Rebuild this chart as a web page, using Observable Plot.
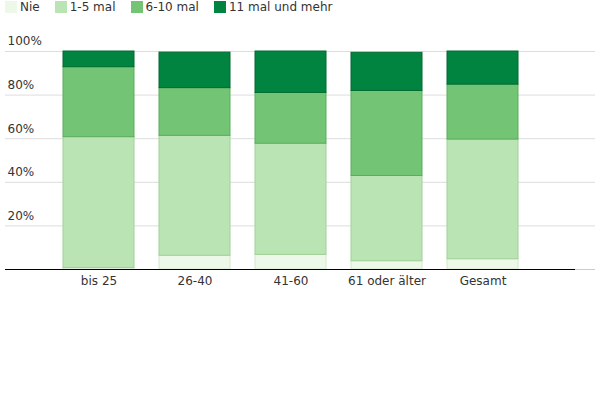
<!DOCTYPE html>
<html>
<head>
<meta charset="utf-8">
<script src="https://cdn.jsdelivr.net/npm/d3@7"></script>
<script src="https://cdn.jsdelivr.net/npm/@observablehq/plot@0.6"></script>
<style>
  body { margin: 0; background: #fff; font-family: "DejaVu Sans", sans-serif; }
  #legend { height: 20px; display: flex; align-items: flex-start; padding-left: 5px; font-size: 12px; color: #333; box-sizing: border-box; }
  .item { display: flex; align-items: center; margin-right: 15px; height: 14px; }
  .sw { width: 12px; height: 12px; margin-right: 3px; display: inline-block; }
</style>
</head>
<body>
<div id="legend"></div>
<div id="chart"></div>
<script>
const categories = ["bis 25", "26-40", "41-60", "61 oder älter", "Gesamt"];
const series = ["Nie", "1-5 mal", "6-10 mal", "11 mal und mehr"];
const nie     = [0.7, 6.3, 6.7, 3.8, 4.7];
const mal1_5  = [60.0, 55.0, 51.0, 39.1, 54.9];
const mal6_10 = [32.1, 21.9, 23.3, 39.0, 25.2];
const mal11   = [7.2, 16.3, 19.0, 17.5, 15.2];
const yTicks = [20, 40, 60, 80, 100];

const fills = ["#edf8e9", "#bae4b3", "#74c476", "#00843f"];
const strokes = ["#d2e8ca", "#a0d098", "#5aae5c", "#006b33"];

const values = [nie, mal1_5, mal6_10, mal11];
const data = [];
series.forEach((s, si) => categories.forEach((c, ci) => data.push({cat: c, series: s, si, value: values[si][ci]})));

const legend = document.getElementById("legend");
series.forEach((s, i) => {
  const it = document.createElement("div");
  it.className = "item";
  it.innerHTML = `<span class="sw" style="background:${fills[i]}"></span><span>${s}</span>`;
  legend.appendChild(it);
});

const chart = Plot.plot({
  width: 600,
  height: 380,
  marginTop: 31,
  marginBottom: 131,
  marginLeft: 5,
  marginRight: 5,
  style: {fontFamily: "DejaVu Sans, sans-serif", fontSize: "12px", color: "#333", background: "#fff"},
  x: {domain: categories, range: [36.8, 543.3], padding: 0.262, label: null},
  y: {domain: [0, 100], label: null, axis: null},
  marks: [
    Plot.ruleY(yTicks, {stroke: "#dddddd", strokeWidth: 1}),
    Plot.ruleY([0], {stroke: "#cccccc"}),
    Plot.barY(data, Plot.stackY({
      x: "cat", y: "value", z: "series", order: series,
      fill: d => fills[d.si], stroke: d => strokes[d.si], strokeWidth: 1
    })),
    Plot.ruleY([0], {stroke: "#000", insetRight: 20}),
    Plot.text(yTicks, {y: d => d, text: d => d + "%", frameAnchor: "left", textAnchor: "start", dx: 2, dy: -10, fill: "#333", fontSize: 12}),
    Plot.axisX({tickSize: 0, tickPadding: 7, fontSize: 12, fill: "#333", label: null})
  ]
});
document.getElementById("chart").appendChild(chart);
</script>
</body>
</html>
